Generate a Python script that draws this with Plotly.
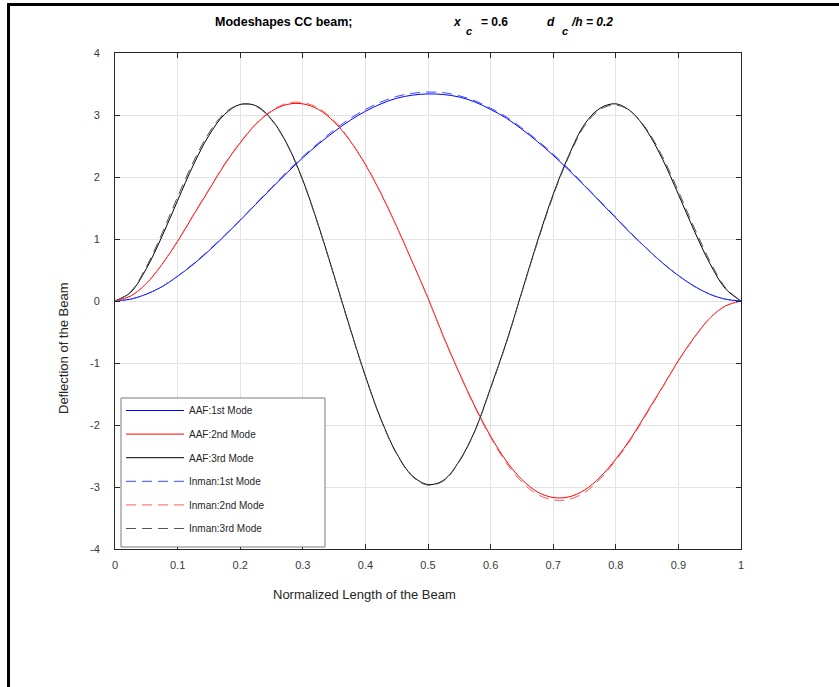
import plotly.graph_objects as go

# Normalized beam length positions
x_pos = [0.000, 0.025, 0.050, 0.075, 0.100, 0.125, 0.150, 0.175, 0.200, 0.225,
         0.250, 0.275, 0.300, 0.325, 0.350, 0.375, 0.400, 0.425, 0.450, 0.475,
         0.500, 0.525, 0.550, 0.575, 0.600, 0.625, 0.650, 0.675, 0.700, 0.725,
         0.750, 0.775, 0.800, 0.825, 0.850, 0.875, 0.900, 0.925, 0.950, 0.975,
         1.000]

# AAF mode shapes
aaf_mode1 = [0, 0.03, 0.11, 0.23, 0.40, 0.59, 0.81, 1.05, 1.30, 1.56,
             1.82, 2.07, 2.31, 2.53, 2.73, 2.91, 3.06, 3.18, 3.27, 3.32,
             3.34, 3.33, 3.29, 3.21, 3.09, 2.95, 2.77, 2.57, 2.35, 2.11,
             1.86, 1.60, 1.34, 1.08, 0.84, 0.61, 0.41, 0.24, 0.11, 0.03, 0]
aaf_mode2 = [0, 0.08, 0.28, 0.59, 0.96, 1.38, 1.79, 2.20, 2.55, 2.85,
             3.06, 3.17, 3.18, 3.09, 2.89, 2.59, 2.20, 1.73, 1.20, 0.63,
             0.05, -0.58, -1.16, -1.70, -2.18, -2.58, -2.88, -3.08, -3.17, -3.16,
             -3.05, -2.84, -2.55, -2.20, -1.79, -1.38, -0.96, -0.59, -0.28, -0.08, 0]
aaf_mode3 = [0, 0.14, 0.52, 1.04, 1.62, 2.19, 2.67, 3.01, 3.17, 3.15,
             2.93, 2.53, 1.95, 1.22, 0.41, -0.42, -1.21, -1.91, -2.46, -2.82,
             -2.96, -2.89, -2.58, -2.09, -1.40, -0.67, 0.15, 0.97, 1.72, 2.35,
             2.85, 3.11, 3.18, 3.05, 2.74, 2.28, 1.72, 1.14, 0.61, 0.20, 0]

# Inman mode shapes
inman_mode1 = [0, 0.03, 0.11, 0.23, 0.40, 0.60, 0.82, 1.06, 1.31, 1.57,
               1.83, 2.09, 2.33, 2.55, 2.76, 2.94, 3.09, 3.21, 3.30, 3.35,
               3.37, 3.36, 3.31, 3.23, 3.11, 2.97, 2.79, 2.59, 2.37, 2.13,
               1.87, 1.61, 1.35, 1.09, 0.84, 0.61, 0.41, 0.24, 0.11, 0.03, 0]
inman_mode2 = [0, 0.08, 0.28, 0.59, 0.97, 1.39, 1.80, 2.21, 2.56, 2.86,
               3.07, 3.19, 3.20, 3.11, 2.91, 2.60, 2.21, 1.74, 1.20, 0.63,
               0.04, -0.59, -1.17, -1.72, -2.20, -2.61, -2.92, -3.12, -3.21, -3.20,
               -3.09, -2.87, -2.57, -2.22, -1.81, -1.39, -0.97, -0.60, -0.28, -0.08, 0]
inman_mode3 = [0, 0.15, 0.55, 1.09, 1.68, 2.24, 2.71, 3.03, 3.17, 3.14,
               2.92, 2.52, 1.94, 1.21, 0.40, -0.43, -1.22, -1.92, -2.47, -2.83,
               -2.97, -2.90, -2.59, -2.10, -1.41, -0.68, 0.14, 0.95, 1.70, 2.33,
               2.82, 3.09, 3.16, 3.05, 2.76, 2.32, 1.77, 1.19, 0.65, 0.22, 0]

series = [
    ("AAF:1st Mode", aaf_mode1, "#0000ff", "solid"),
    ("AAF:2nd Mode", aaf_mode2, "#ff0000", "solid"),
    ("AAF:3rd Mode", aaf_mode3, "#000000", "solid"),
    ("Inman:1st Mode", inman_mode1, "#3a4cff", "10px,6px"),
    ("Inman:2nd Mode", inman_mode2, "#ff5a5a", "10px,6px"),
    ("Inman:3rd Mode", inman_mode3, "#555555", "10px,6px"),
]

x_ticks = [0, 0.1, 0.2, 0.3, 0.4, 0.5, 0.6, 0.7, 0.8, 0.9, 1]
x_tick_text = ["0", "0.1", "0.2", "0.3", "0.4", "0.5", "0.6", "0.7", "0.8", "0.9", "1"]
y_ticks = [-4, -3, -2, -1, 0, 1, 2, 3, 4]
y_tick_text = ["-4", "-3", "-2", "-1", "0", "1", "2", "3", "4"]

FONT = "Liberation Sans, Arial, sans-serif"
W, H = 839, 687
L, R, T, B = 115, 98, 53, 138
pw, ph = W - L - R, H - T - B


def px(xp):
    return (xp - L) / pw


def py(yp):
    return (H - B - yp) / ph


fig = go.Figure()
for i, (name, ys, color, dash) in enumerate(series):
    fig.add_trace(go.Scatter(
        x=x_pos, y=ys, name=name, mode="lines",
        line=dict(color=color, width=1, dash=dash, shape="spline"),
        legendgroup=f"g{i}",
    ))

axis_common = dict(
    showgrid=True, gridcolor="#e3e3e3", gridwidth=1,
    zeroline=False, showline=True, linecolor="#262626", linewidth=1,
    mirror="ticks", ticks="inside", ticklen=5, tickcolor="#262626",
    tickfont=dict(family=FONT, size=11, color="#3a3a3a"),
)

fig.update_xaxes(range=[0, 1], tickvals=x_ticks, ticktext=x_tick_text,
                 ticklabelstandoff=6, **axis_common)
fig.update_yaxes(range=[-4, 4], tickvals=y_ticks, ticktext=y_tick_text,
                 ticklabelstandoff=12, **axis_common)

shapes = [
    # legend frame
    dict(type="rect", xref="paper", yref="paper",
         x0=px(121), x1=px(325), y0=py(547), y1=py(398),
         line=dict(color="#7a7a7a", width=1), fillcolor="white", layer="above"),
    # figure border (top and left)
    dict(type="line", xref="paper", yref="paper",
         x0=px(8), x1=px(W + 5), y0=py(4.5), y1=py(4.5),
         line=dict(color="black", width=3)),
    dict(type="line", xref="paper", yref="paper",
         x0=px(8.5), x1=px(8.5), y0=py(3), y1=py(H + 5),
         line=dict(color="black", width=3)),
]

ann = []


def add_text(text, xp, yp, size=12, xanchor="left"):
    ann.append(dict(text=text, xref="paper", yref="paper", x=px(xp), y=py(yp),
                    xanchor=xanchor, yanchor="middle", showarrow=False,
                    font=dict(family=FONT, size=size, color="black")))


add_text("<b>Modeshapes CC beam;</b>", 213, 22, size=12.5)
add_text("<b><i>x</i></b>", 451, 22)
add_text("<b><i>c</i></b>", 464, 31, size=11)
add_text("<b>= 0.6</b>", 479, 22)
add_text("<b><i>d</i></b>", 545, 22)
add_text("<b><i>c</i></b>", 560, 31, size=11)
add_text("<b><i>/h = 0.2</i></b>", 569, 22)

ann.append(dict(text="Normalized Length of the Beam", xref="paper", yref="paper",
                x=px(364), y=py(594), xanchor="center", yanchor="middle",
                showarrow=False, font=dict(family=FONT, size=13, color="#262626")))
ann.append(dict(text="Deflection of the Beam", xref="paper", yref="paper",
                x=px(63), y=py(348), xanchor="center", yanchor="middle",
                textangle=-90, showarrow=False,
                font=dict(family=FONT, size=13, color="#262626")))

fig.update_layout(
    width=W, height=H,
    margin=dict(l=L, r=R, t=T, b=B),
    paper_bgcolor="white", plot_bgcolor="white",
    shapes=shapes, annotations=ann,
    showlegend=True,
    legend=dict(
        x=px(121), y=py(396), xanchor="left", yanchor="top",
        bgcolor="rgba(0,0,0,0)", borderwidth=0,
        font=dict(family=FONT, size=10, color="#262626"),
        traceorder="grouped", tracegroupgap=4.6, itemwidth=58,
    ),
)

fig.write_html("out.html")
